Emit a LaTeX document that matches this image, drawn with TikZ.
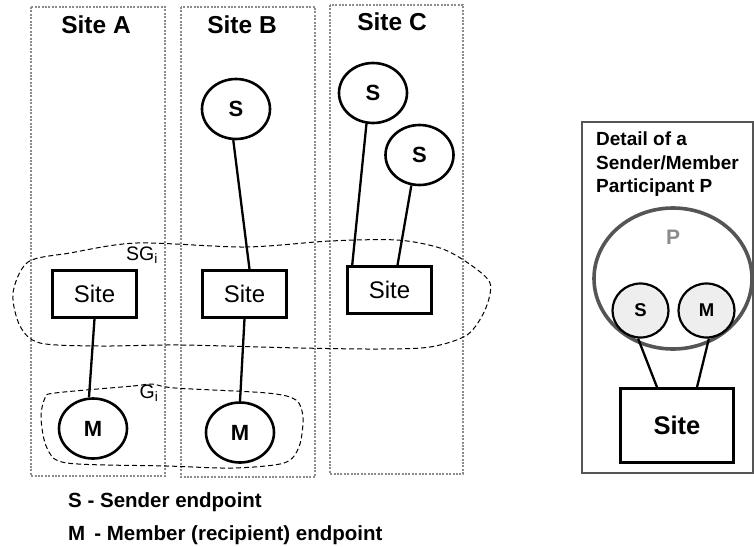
\documentclass[tikz,border=0pt]{standalone}
\usepackage{fontspec}
\setmainfont{Liberation Sans}
\usetikzlibrary{shapes.geometric}
\definecolor{dotgray}{RGB}{140,140,140}
\definecolor{pgray}{RGB}{85,85,85}
\definecolor{plabel}{RGB}{140,140,140}
\definecolor{sfill}{RGB}{238,238,238}

\tikzset{
  sitearea/.style={dotgray, line width=2.4pt, dash pattern=on 2pt off 1.4pt},
  blob/.style={line width=1pt, dash pattern=on 5pt off 3pt},
  endpt/.style={draw, ellipse, line width=2.6pt, minimum width=68pt, minimum height=60pt,
    inner sep=0pt, font=\fontsize{22}{22}\selectfont\bfseries},
  sitenode/.style={draw, rectangle, line width=2.6pt, minimum width=84pt, minimum height=47pt,
    inner sep=0pt, font=\fontsize{24}{24}\selectfont},
  link/.style={line width=2.3pt},
}

\begin{document}
\begin{tikzpicture}[x=1pt, y=-1pt]
\useasboundingbox (0,0) rectangle (754,546);

% Areas dos sites
\draw[sitearea] (31,7) rectangle (165,476);
\draw[sitearea] (181,7) rectangle (315,477);
\draw[sitearea] (330,5) rectangle (463,474);

\node[font=\fontsize{24.5}{24.5}\selectfont\bfseries] (titleA) at (96,25) {Site A};
\node[font=\fontsize{24.5}{24.5}\selectfont\bfseries] (titleB) at (242,25) {Site B};
\node[font=\fontsize{24.5}{24.5}\selectfont\bfseries] (titleC) at (392,22) {Site C};

% Grupo SG_i
\draw[blob] plot[smooth cycle] coordinates {
  (137,243) (245,247) (330,241) (397,240) (440,248) (468,263) (490,283)
  (485,310) (467,335) (430,347) (380,349) (300,348) (180,345) (100,346)
  (40,343) (20,326) (13,293) (28,262) (70,253)};
\node[font=\fontsize{19.5}{19.5}\selectfont, inner sep=0pt] (sgLabel) at (142,255) {SG\textsubscript{i}};

% Grupo G_i
\draw[blob] plot[smooth cycle] coordinates {
  (55,393) (133,386) (152,384) (175,388) (267,393) (296,400) (303,418)
  (299,447) (284,463) (233,468) (167,466) (67,463) (47,448) (41,418) (45,398)};
\node[font=\fontsize{19.5}{19.5}\selectfont, inner sep=0pt] (gLabel) at (149,393) {G\textsubscript{i}};

% Remetentes
\node[endpt] (sB) at (236,109) {S};
\node[endpt] (sC1) at (373,93) {S};
\node[endpt] (sC2) at (419.5,155) {S};

% Sites
\node[sitenode, fill=white] (siteA) at (94.5,294) {Site};
\node[sitenode, fill=white] (siteB) at (244.5,294) {Site};
\node[sitenode, fill=white] (siteC) at (389.5,290) {Site};

% Membros
\node[endpt] (mA) at (93,428.5) {M};
\node[endpt] (mB) at (240,432.5) {M};

% Ligacoes
\draw[link] (sB.265) -- ([xshift=5pt]siteB.north);
\draw[link] (sC1.258) -- ([xshift=6pt]siteC.north west);
\draw[link] (sC2.255) -- ([xshift=8pt]siteC.north);
\draw[link] (siteA.south) -- ([xshift=-4pt]mA.north);
\draw[link] (siteB.south) -- (mB.north);

% Legenda
\node[anchor=base west, inner sep=0pt, font=\fontsize{20.5}{20.5}\selectfont\bfseries] (legS) at (68,507) {S - Sender endpoint};
\node[anchor=base west, inner sep=0pt, font=\fontsize{20.5}{20.5}\selectfont\bfseries] (legM) at (68,540) {M\ \,- Member (recipient) endpoint};

% Detalhe do participante
\draw[line width=1.4pt, pgray] (582,122) rectangle (753,473);
\node[anchor=north west, inner sep=0pt, align=left, font=\fontsize{19}{23.5}\selectfont\bfseries] (detail) at (596,132)
  {Detail of a\\Sender/Member\\Participant P};

\node[draw=pgray, ellipse, line width=3.6pt, minimum width=158pt, minimum height=141pt] (pCircle) at (673,278.5) {};
\node[plabel, font=\fontsize{21}{21}\selectfont\bfseries] (pLabel) at (673,237) {P};

\node[endpt, fill=sfill, line width=2.2pt, minimum width=56pt, minimum height=54pt,
  font=\fontsize{18.5}{18.5}\selectfont\bfseries] (dS) at (640.5,310.5) {S};
\node[endpt, fill=sfill, line width=2.2pt, minimum width=56pt, minimum height=54pt,
  font=\fontsize{18.5}{18.5}\selectfont\bfseries] (dM) at (706.5,310.5) {M};

\node[draw, line width=2.6pt, minimum width=113pt, minimum height=74pt,
  font=\fontsize{25.5}{25.5}\selectfont\bfseries] (dSite) at (677,425.5) {Site};

\draw[link] (dS.265) -- ([xshift=-20pt]dSite.north);
\draw[link] (dM.275) -- ([xshift=20pt]dSite.north);

\end{tikzpicture}
\end{document}
